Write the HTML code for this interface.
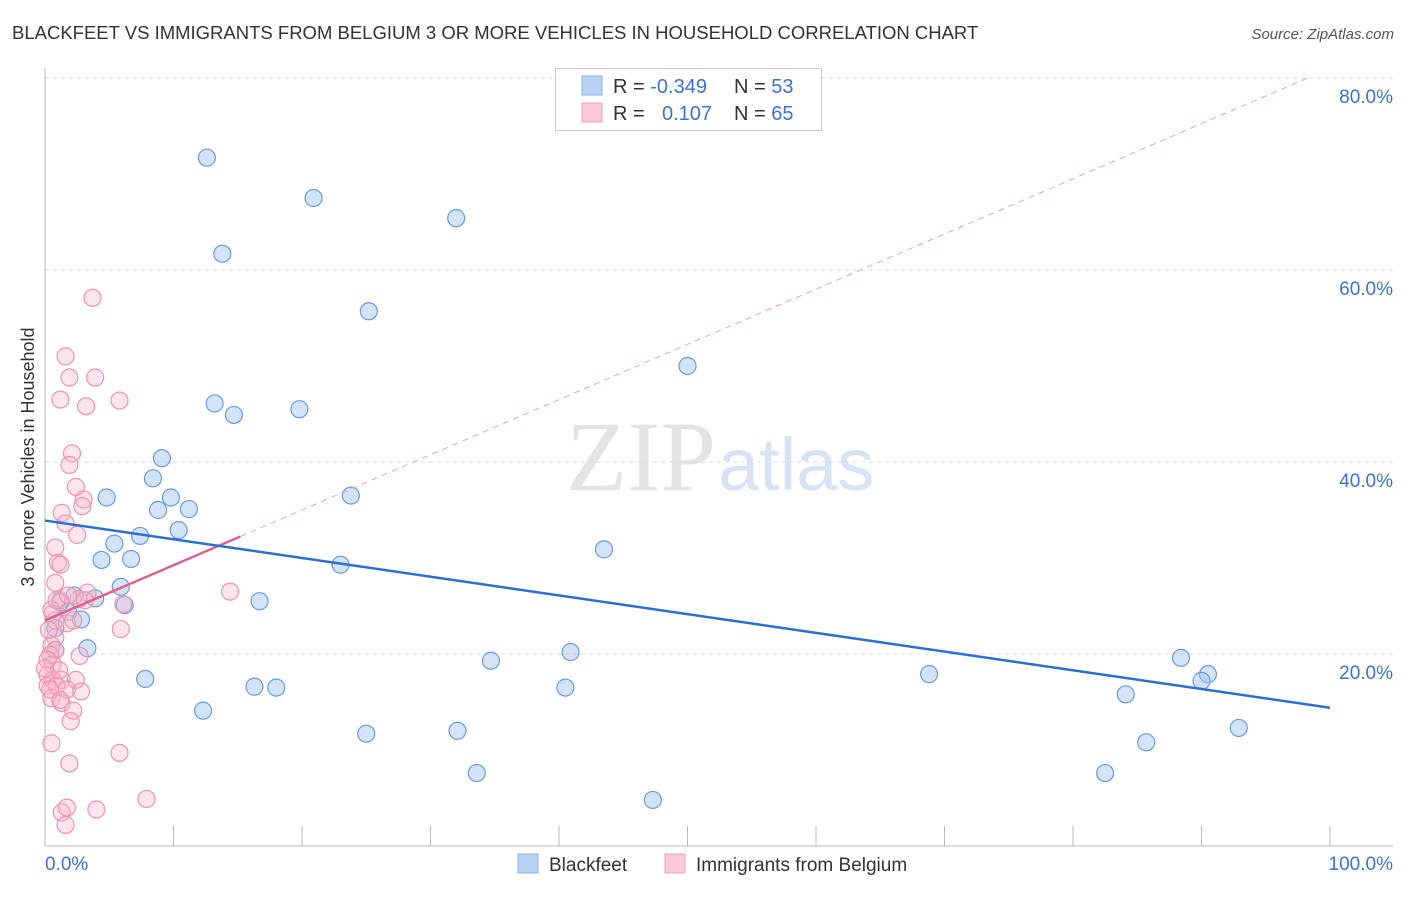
<!DOCTYPE html>
<html><head><meta charset="utf-8"><style>
body{margin:0;background:#fff;font-family:"Liberation Sans",sans-serif;}
</style></head><body>
<svg id="chart" width="1406" height="892" xmlns="http://www.w3.org/2000/svg">
<text x="12" y="39" font-size="18.5" fill="#333">BLACKFEET VS IMMIGRANTS FROM BELGIUM 3 OR MORE VEHICLES IN HOUSEHOLD CORRELATION CHART</text>
<text x="1394" y="39" font-size="15" fill="#555" font-style="italic" text-anchor="end">Source: ZipAtlas.com</text>
<text x="716" y="490" font-size="100" fill="#e4e4e4" font-family="Liberation Serif,serif" text-anchor="end">ZIP</text>
<text x="718" y="490" font-size="74" fill="#d6e4f5">atlas</text>
<g id="grid"></g>
<g id="axes"></g>
<g id="marks"></g>
<text x="34" y="457" font-size="18" fill="#333" text-anchor="middle" transform="rotate(-90 34 457)">3 or more Vehicles in Household</text>
<g>
<rect x="555.5" y="68.5" width="266" height="62" fill="#fff" stroke="#ccc"/>
<rect x="582" y="76" width="20" height="19" fill="#b9d3f5" stroke="#8ab2e8"/>
<rect x="582" y="103" width="20" height="19" fill="#fbc9d8" stroke="#f0a0ba"/>
<text x="613" y="93" font-size="20" fill="#333">R = <tspan fill="#3a73d0">-0.349</tspan></text>
<text x="734" y="93" font-size="20" fill="#333">N = <tspan fill="#3a73d0">53</tspan></text>
<text x="613" y="120" font-size="20" fill="#333">R = <tspan x="662" fill="#3a73d0">0.107</tspan></text>
<text x="734" y="120" font-size="20" fill="#333">N = <tspan fill="#3a73d0">65</tspan></text>
</g>
<g>
<rect x="518" y="854" width="20" height="19" fill="#b9d3f5" stroke="#8ab2e8"/>
<text x="549" y="871" font-size="19" fill="#333">Blackfeet</text>
<rect x="665" y="854" width="20" height="19" fill="#fbc9d8" stroke="#f0a0ba"/>
<text x="696" y="871" font-size="19" fill="#333">Immigrants from Belgium</text>
</g>
</svg>
<script>
const blueX=[12.6,20.9,32.0,13.8,25.2,50.0,13.2,14.7,19.8,9.1,8.4,4.8,9.8,23.8,8.8,11.2,7.4,10.4,5.4,4.4,6.7,43.5,23.0,5.9,2.3,3.9,1.2,6.2,16.7,1.8,2.8,0.8,3.3,34.7,40.9,7.8,68.8,88.4,90.5,90.0,16.3,18.0,40.5,84.1,12.3,25.0,32.1,85.7,92.9,33.6,82.5,47.3,0.8];
const blueY=[71.7,67.5,65.4,61.7,55.7,50.0,46.1,44.9,45.5,40.4,38.3,36.3,36.3,36.5,35.0,35.1,32.3,32.9,31.5,29.8,29.9,30.9,29.3,27.0,26.1,25.8,25.4,25.1,25.5,24.4,23.6,22.7,20.6,19.3,20.2,17.4,17.9,19.6,17.9,17.2,16.6,16.5,16.5,15.8,14.1,11.7,12.0,10.8,12.3,7.6,7.6,4.8,20.4];
const pinkX=[3.7,1.6,1.9,3.9,1.2,3.2,5.8,2.1,1.9,2.4,3.0,2.9,1.3,1.6,2.5,0.8,1.0,1.2,0.8,3.3,2.6,1.2,6.1,14.4,0.6,0.8,1.7,5.9,0.8,0.5,0.8,0.4,0.2,0.6,2.7,0.2,0.6,1.3,2.4,0.2,0.9,2.8,0.5,1.3,2.2,2.0,0.5,5.8,1.9,1.3,1.7,4.0,7.9,1.6,0.3,0.5,0.9,1.1,1.7,0,0.4,1.8,2.2,1.2,3.1];
const pinkY=[57.1,51.0,48.8,48.8,46.5,45.8,46.4,40.9,39.7,37.4,36.1,35.4,34.7,33.6,32.4,31.1,29.5,29.3,27.4,26.4,25.7,25.6,25.2,26.5,24.2,23.5,23.2,22.6,21.7,20.9,20.4,19.9,19.4,18.9,19.8,17.8,17.3,17.3,17.3,16.7,16.7,16.1,15.4,14.9,14.1,13.0,10.7,9.7,8.6,3.5,4.0,3.8,4.9,2.2,22.5,24.6,25.6,18.3,16.3,18.5,16.3,26.1,23.5,15.2,25.6];
const yTicks=[20,40,60,80];
const yTickLabels=["20.0%","40.0%","60.0%","80.0%"];
const xTicks=[0,10,20,30,40,50,60,70,80,90,100];
const blueTrend=[33.9,14.4];
const pinkTrend=[23.5,0.575];
const pinkSolidEnd=15.2;

const NS="http://www.w3.org/2000/svg";
const sx=v=>45+v*12.85, sy=v=>846-v*9.6;
function mk(parent,tag,attrs){const e=document.createElementNS(NS,tag);for(const k in attrs)e.setAttribute(k,attrs[k]);document.getElementById(parent).appendChild(e);return e;}
yTicks.forEach((t,i)=>{
  const g=mk('grid','line',{x1:45,x2:1393,y1:sy(t),y2:sy(t),stroke:'#ddd','stroke-dasharray':'4,4'});
  
  
  const l=mk('axes','text',{x:1393,y:sy(t)+25,'font-size':19,fill:'#3a73d0','text-anchor':'end'});
  l.textContent=yTickLabels[i];
  
  
});
let a=mk('axes','line',{x1:45,x2:45,y1:68,y2:846,stroke:'#bbb'});


a=mk('axes','line',{x1:45,x2:1393,y1:846,y2:846,stroke:'#bbb'});


xTicks.forEach(t=>{
  const e=mk('axes','line',{x1:sx(t),x2:sx(t),y1:826,y2:846,stroke:'#bbb'});
  
  
});
let t=mk('axes','text',{x:45,y:870,'font-size':19,fill:'#3a73d0'});t.textContent='0.0%';


t=mk('axes','text',{x:1393,y:870,'font-size':19,fill:'#3a73d0','text-anchor':'end'});t.textContent='100.0%';



blueX.forEach((x,i)=>{
  const c=mk('marks','circle',{cx:sx(x),cy:sy(blueY[i]),r:8.5,fill:'rgba(160,196,240,0.45)',stroke:'#6a9be0','stroke-width':1.2});
  
  
});
pinkX.forEach((x,i)=>{
  const c=mk('marks','circle',{cx:sx(x),cy:sy(pinkY[i]),r:8.5,fill:'rgba(248,180,200,0.35)',stroke:'#ee92b0','stroke-width':1.2});
  
  
});
const pEnd=(80-pinkTrend[0])/pinkTrend[1];
let l=mk('marks','line',{x1:sx(pinkSolidEnd),y1:sy(pinkTrend[0]+pinkTrend[1]*pinkSolidEnd),x2:sx(pEnd),y2:sy(80),stroke:'#e8a0b8','stroke-width':1,'stroke-dasharray':'6,5'});


l=mk('marks','line',{x1:sx(0),y1:sy(pinkTrend[0]),x2:sx(pinkSolidEnd),y2:sy(pinkTrend[0]+pinkTrend[1]*pinkSolidEnd),stroke:'#e0608a','stroke-width':2.5});


l=mk('marks','line',{x1:sx(0),y1:sy(blueTrend[0]),x2:sx(100),y2:sy(blueTrend[1]),stroke:'#2a6fd6','stroke-width':2.5});


</script>
</body></html>
